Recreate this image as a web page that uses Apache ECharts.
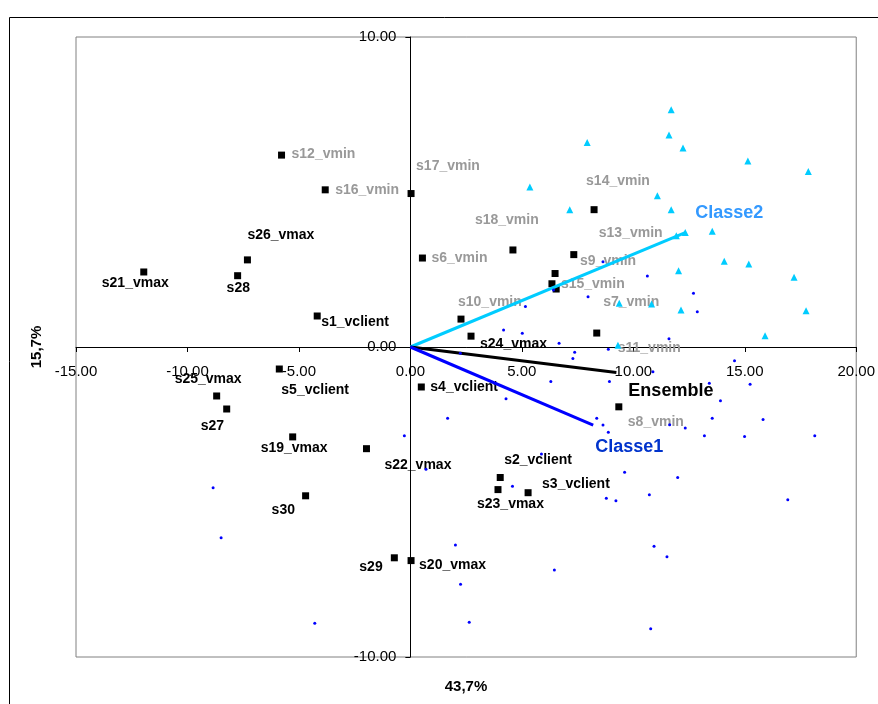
<!DOCTYPE html>
<html>
<head>
<meta charset="utf-8">
<title>ACP biplot</title>
<script src="https://cdn.jsdelivr.net/npm/echarts@6/dist/echarts.min.js"></script>
<style>
  html, body { margin: 0; padding: 0; background: #fff; }
</style>
</head>
<body>
<div id="main" style="width: 878px; height: 704px;"></div>
<script type="text/javascript">
// variables (squares) : name, coords
var varNames = ['s1_vclient', 's2_vclient', 's3_vclient', 's4_vclient', 's5_vclient',
  's6_vmin', 's7_vmin', 's8_vmin', 's9_vmin', 's10_vmin', 's11_vmin', 's12_vmin',
  's13_vmin', 's14_vmin', 's15_vmin', 's16_vmin', 's17_vmin', 's18_vmin',
  's19_vmax', 's20_vmax', 's21_vmax', 's22_vmax', 's23_vmax', 's24_vmax',
  's25_vmax', 's26_vmax', 's27', 's28', 's29', 's30'];
var varX = [-4.18, 4.03, 5.28, 0.49, -5.88, 0.54, 6.54, 9.35, 6.49, 2.27, 8.36, -5.78,
  7.33, 8.24, 6.35, -3.82, 0.03, 4.60, -5.28, 0.03, -11.96, -1.97, 3.93, 2.72,
  -8.69, -7.31, -8.24, -7.75, -0.72, -4.70];
var varY = [1.00, -4.21, -4.70, -1.29, -0.71, 2.87, 1.87, -1.93, 2.37, 0.90, 0.45, 6.19,
  2.98, 4.43, 2.04, 5.07, 4.95, 3.13, -2.90, -6.89, 2.42, -3.28, -4.60, 0.35,
  -1.58, 2.81, -2.00, 2.30, -6.80, -4.80];

// individuals of class 1 (blue dots)
var classe1Pts = [[10.63, 2.29], [12.70, 1.73], [12.87, 1.14], [7.97, 1.62], [6.42, 1.84],
  [5.16, 1.31], [4.18, 0.55], [5.02, 0.44], [6.67, 0.12], [11.60, 0.27], [8.88, -0.07],
  [7.37, -0.17], [7.29, -0.37], [2.24, -0.20], [10.88, -0.80], [14.54, -0.44],
  [15.24, -1.20], [13.41, -1.17], [13.91, -1.73], [6.30, -1.11], [8.93, -1.11],
  [4.29, -1.67], [1.67, -2.30], [-0.27, -2.86], [8.36, -2.30], [8.64, -2.52],
  [8.88, -2.75], [11.63, -2.51], [12.33, -2.61], [13.54, -2.30], [15.82, -2.34],
  [13.19, -2.86], [14.99, -2.89], [18.14, -2.86], [5.88, -3.45], [0.70, -3.94],
  [4.58, -4.49], [9.61, -4.04], [11.99, -4.21], [10.72, -4.77], [8.79, -4.88],
  [9.22, -4.96], [16.93, -4.93], [2.02, -6.39], [10.93, -6.43], [11.51, -6.77],
  [6.46, -7.19], [2.25, -7.65], [2.64, -8.88], [10.78, -9.09], [-8.85, -4.54],
  [-8.49, -6.15], [-4.29, -8.91], [8.64, 2.75]];

// individuals of class 2 (cyan triangles)
var classe2Pts = [[11.70, 7.65], [11.60, 6.84], [12.23, 6.42], [7.93, 6.60], [15.14, 6.00],
  [17.85, 5.66], [5.36, 5.16], [11.08, 4.88], [7.15, 4.43], [11.70, 4.43], [12.33, 3.69],
  [11.93, 3.59], [13.54, 3.73], [14.08, 2.77], [15.18, 2.68], [12.03, 2.46],
  [17.21, 2.25], [12.14, 1.19], [17.75, 1.17], [9.37, 1.41], [10.82, 1.39],
  [15.91, 0.36], [9.31, 0.06]];

// group centroids (vectors from origin)
var vecNames = ['Classe2', 'Ensemble', 'Classe1'];
var vecX = [12.33, 9.24, 8.20];
var vecY = [3.69, -0.82, -2.52];

var xTicks = { min: -15, max: 20, step: 5 };
var yTicks = { min: -10, max: 10, step: 10 };
var xTitle = '43,7%';
var yTitle = '15,7%';

// layout: label offsets in px (left edge, vertical middle) per variable
var labelOffsets = {
  's1_vclient': [4, 6], 's2_vclient': [4, -17], 's3_vclient': [14, -9], 's4_vclient': [9, 0],
  's5_vclient': [2, 21], 's6_vmin': [9, 0], 's7_vmin': [47, 13], 's8_vmin': [9, 15],
  's9_vmin': [25, -12], 's10_vmin': [-3, -17], 's11_vmin': [21, 15], 's12_vmin': [10, -1],
  's13_vmin': [25, -21], 's14_vmin': [-8, -29], 's15_vmin': [9, 0], 's16_vmin': [10, 0],
  's17_vmin': [5, -27], 's18_vmin': [-38, -30], 's19_vmax': [-32, 11], 's20_vmax': [8, 5],
  's21_vmax': [-42, 11], 's22_vmax': [18, 16], 's23_vmax': [-21, 15], 's24_vmax': [9, 8],
  's25_vmax': [-42, -17], 's26_vmax': [0, -25], 's27': [-26, 17], 's28': [-11, 12],
  's29': [-35, 9], 's30': [-34, 14]
};
var vecStyle = {
  'Classe2': { line: '#00ccff', text: '#3399ff', offset: [10, -20] },
  'Ensemble': { line: '#000000', text: '#000000', offset: [12, 19] },
  'Classe1': { line: '#0000ff', text: '#0033cc', offset: [2, 22] }
};

var FONT = '"Liberation Sans", Arial, sans-serif';
var GRID = { left: 76, right: 21, top: 37, bottom: 47 };

var myChart = echarts.init(document.getElementById('main'), null, { renderer: 'canvas' });

var squareData = varNames.map(function (n, i) {
  return {
    name: n,
    value: [varX[i], varY[i]],
    label: { color: n.indexOf('vmin') >= 0 ? '#999999' : '#000000' }
  };
});

var vecSeries = vecNames.map(function (n, i) {
  var st = vecStyle[n];
  return {
    type: 'line',
    name: n,
    z: 4,
    symbol: 'circle',
    symbolSize: 0.1,
    showSymbol: true,
    silent: true,
    animation: false,
    itemStyle: { color: st.line },
    lineStyle: { color: st.line, width: 3 },
    data: [
      { value: [0, 0], label: { show: false } },
      {
        value: [vecX[i], vecY[i]],
        label: {
          show: true, position: 'inside', align: 'left', verticalAlign: 'middle',
          offset: st.offset, formatter: n, color: st.text,
          fontFamily: FONT, fontWeight: 'bold', fontSize: 18
        }
      }
    ]
  };
});

function fmt(v) { return v.toFixed(2); }

var option = {
  animation: false,
  grid: { left: GRID.left, right: GRID.right, top: GRID.top, bottom: GRID.bottom,
    show: true, borderColor: '#808080', borderWidth: 1 },
  xAxis: {
    type: 'value', min: xTicks.min, max: xTicks.max, interval: xTicks.step,
    axisLine: { onZero: false, lineStyle: { color: '#000', width: 1 } },
    axisTick: { show: true, length: 5, lineStyle: { color: '#000' } },
    axisLabel: { formatter: fmt, margin: 17, fontSize: 15, color: '#000', fontFamily: FONT },
    splitLine: { show: false }
  },
  yAxis: {
    type: 'value', min: yTicks.min, max: yTicks.max, interval: yTicks.step,
    axisLine: { onZero: false, lineStyle: { color: '#000', width: 1 } },
    axisTick: { show: true, length: 5, lineStyle: { color: '#000' } },
    axisLabel: { formatter: fmt, margin: 14, fontSize: 15, color: '#000', fontFamily: FONT },
    splitLine: { show: false }
  },
  graphic: [
    {
      type: 'rect', silent: true, z: -10,
      shape: { x: 9.5, y: 17.5, width: 900, height: 700 },
      style: { fill: 'none', stroke: '#000', lineWidth: 1 }
    },
    {
      type: 'text', x: 466, y: 687, silent: true,
      style: { text: xTitle, font: 'bold 15px ' + FONT, fill: '#000', textAlign: 'center', textVerticalAlign: 'middle' }
    },
    {
      type: 'text', x: 37, y: 347, rotation: Math.PI / 2, silent: true,
      style: { text: yTitle, font: 'bold 15px ' + FONT, fill: '#000', textAlign: 'center', textVerticalAlign: 'middle' }
    }
  ],
  series: [
    {
      type: 'scatter', name: 'variables', z: 3,
      symbol: 'rect', symbolSize: 7,
      itemStyle: { color: '#000', opacity: 1 },
      label: {
        show: true, position: 'inside', align: 'left', verticalAlign: 'middle',
        formatter: '{b}', fontFamily: FONT, fontWeight: 'bold', fontSize: 14
      },
      labelLayout: function (params) {
        var o = labelOffsets[varNames[params.dataIndex]];
        return { dx: o[0], dy: o[1], hideOverlap: false };
      },
      data: squareData
    },
    {
      type: 'scatter', name: 'Classe2 ind', z: 5,
      symbol: 'triangle', symbolSize: 7,
      itemStyle: { color: '#00ccff', opacity: 1 },
      data: classe2Pts
    },
    {
      type: 'scatter', name: 'Classe1 ind', z: 5,
      symbol: 'circle', symbolSize: 3,
      itemStyle: { color: '#0000ff', opacity: 1 },
      data: classe1Pts
    }
  ].concat(vecSeries)
};

myChart.setOption(option);

// move both axes (line, ticks and labels) onto the zero lines
var zero = myChart.convertToPixel({ gridIndex: 0 }, [0, 0]);
var chartH = myChart.getHeight();
myChart.setOption({
  xAxis: { offset: -((chartH - GRID.bottom) - zero[1]) },
  yAxis: { offset: -(zero[0] - GRID.left) }
});
</script>
</body>
</html>
